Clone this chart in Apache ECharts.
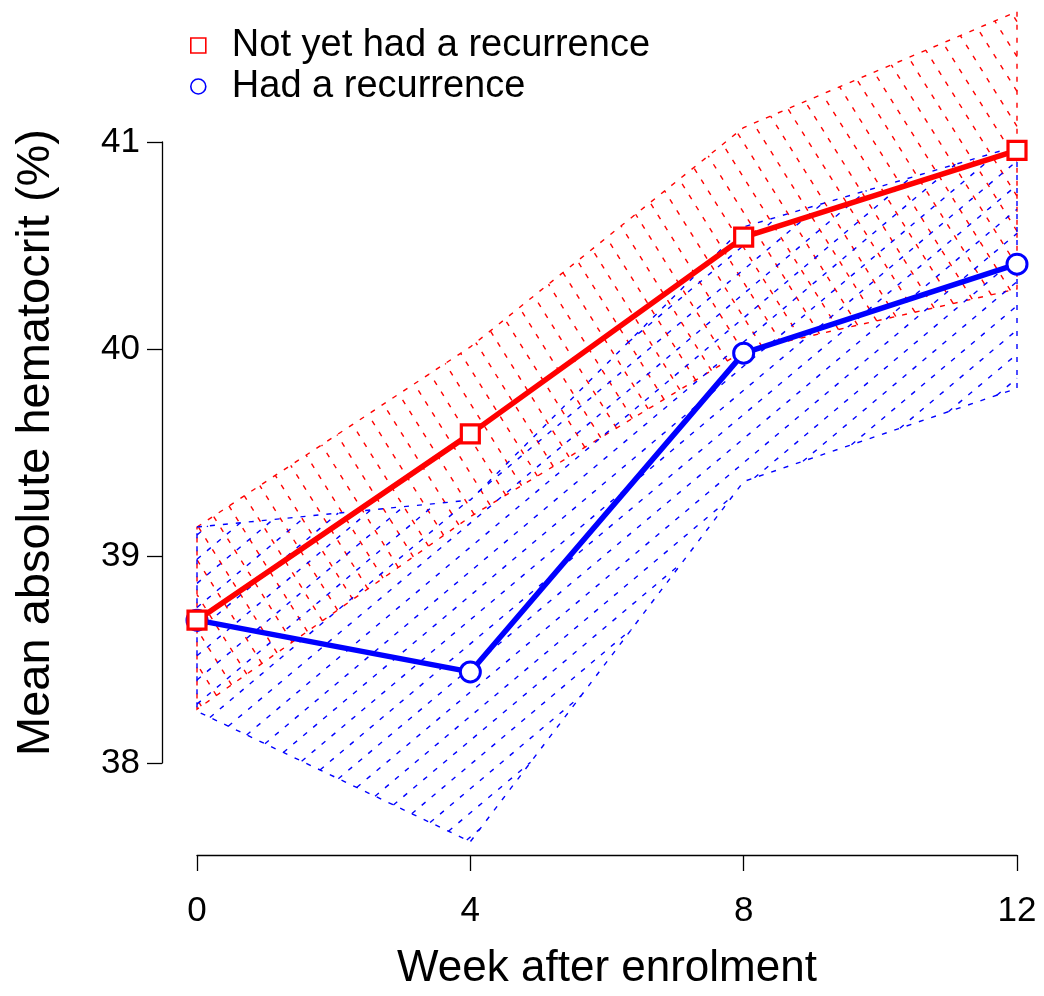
<!DOCTYPE html>
<html>
<head>
<meta charset="utf-8">
<script src="https://cdn.jsdelivr.net/npm/echarts@6/dist/echarts.min.js"></script>
<style>
html,body{margin:0;padding:0;background:#fff;}
#chart{width:1044px;height:996px;}
</style>
</head>
<body>
<div id="chart"></div>
<script>
// ---- data ----
var weeks = [0, 4, 8, 12];
var seriesNames = ['Not yet had a recurrence', 'Had a recurrence'];
var notYetMean  = [38.69, 39.59, 40.54, 40.96];
var notYetUpper = [39.14, 40.01, 41.07, 41.63];
var notYetLower = [38.26, 39.19, 39.99, 40.29];
var hadMean  = [38.69, 38.44, 39.98, 40.41];
var hadUpper = [39.14, 39.27, 40.59, 40.98];
var hadLower = [38.25, 37.62, 39.36, 39.81];
var xTicks = [0, 4, 8, 12];
var yTicks = [38, 39, 40, 41];

var FONT = '"Liberation Sans", Arial, Helvetica, sans-serif';
var RED = '#FF0000', BLUE = '#0000FF';

function pairs(xs, ys) { return xs.map(function (x, i) { return [x, ys[i]]; }); }

// hatch a polygon (pixel coords) with parallel dashed lines at angle (deg, counterclockwise, y up)
function hatch(pts, angleDeg, spacing, color) {
  var a = angleDeg * Math.PI / 180;
  var d = [Math.cos(a), -Math.sin(a)];
  var n = [-d[1], d[0]];
  var proj = pts.map(function (p) { return p[0] * n[0] + p[1] * n[1]; });
  var cmin = Math.min.apply(null, proj), cmax = Math.max.apply(null, proj);
  var children = [];
  var dash = [5, 8];
  for (var k = Math.ceil(cmin / spacing); k * spacing <= cmax; k++) {
    var c = k * spacing;
    var hits = [];
    for (var i = 0; i < pts.length; i++) {
      var p = pts[i], q = pts[(i + 1) % pts.length];
      var da = proj[i] - c, db = proj[(i + 1) % pts.length] - c;
      if ((da > 0) !== (db > 0)) {
        var t = da / (da - db);
        var x = p[0] + t * (q[0] - p[0]), y = p[1] + t * (q[1] - p[1]);
        hits.push({ x: x, y: y, s: x * d[0] + y * d[1] });
      }
    }
    hits.sort(function (u, v) { return u.s - v.s; });
    for (var j = 0; j + 1 < hits.length; j += 2) {
      children.push({
        type: 'line',
        shape: { x1: hits[j].x, y1: hits[j].y, x2: hits[j + 1].x, y2: hits[j + 1].y },
        style: { stroke: color, lineWidth: 1.4, lineDash: dash },
        silent: true
      });
    }
  }
  children.push({
    type: 'polygon',
    shape: { points: pts },
    style: { fill: 'transparent', stroke: color, lineWidth: 1.4, lineDash: dash },
    silent: true
  });
  return children;
}

function bandSeries(upper, lower, color, angle) {
  return {
    type: 'custom',
    silent: true,
    clip: false,
    data: [[0]],
    renderItem: function (params, api) {
      var pts = [];
      for (var i = 0; i < weeks.length; i++) pts.push(api.coord([weeks[i], upper[i]]));
      for (var i2 = weeks.length - 1; i2 >= 0; i2--) pts.push(api.coord([weeks[i2], lower[i2]]));
      return { type: 'group', children: hatch(pts, angle, 18.5, color) };
    },
    z: 1
  };
}

var chart = echarts.init(document.getElementById('chart'), null, { renderer: 'canvas' });
chart.setOption({
  animation: false,
  backgroundColor: '#fff',
  textStyle: { fontFamily: FONT },
  grid: { left: 197, right: 27, top: 142, bottom: 231, containLabel: false },
  legend: {
    orient: 'vertical',
    left: 190,
    top: 25,
    padding: 0,
    itemGap: 0,
    itemWidth: 15,
    itemHeight: 15,
    selectedMode: false,
    textStyle: { fontSize: 38, color: '#000', fontFamily: FONT, lineHeight: 41, padding: [0, 0, 0, 21] },
    data: [
      { name: seriesNames[0], icon: 'rect', itemStyle: { color: '#fff', borderColor: RED, borderWidth: 1.6 } },
      { name: seriesNames[1], icon: 'circle', itemStyle: { color: '#fff', borderColor: BLUE, borderWidth: 1.6 } }
    ]
  },
  xAxis: {
    type: 'value', min: xTicks[0], max: xTicks[xTicks.length - 1], interval: 4,
    offset: 92,
    name: 'Week after enrolment', nameLocation: 'middle', nameGap: 92,
    nameTextStyle: { fontSize: 44, color: '#000', fontFamily: FONT },
    axisLine: { show: true, onZero: false, lineStyle: { color: '#000', width: 1.3 } },
    axisTick: { show: true, length: 16, lineStyle: { color: '#000', width: 1.3 } },
    axisLabel: { fontSize: 35, color: '#000', margin: 39, fontFamily: FONT },
    splitLine: { show: false }
  },
  yAxis: {
    type: 'value', min: yTicks[0], max: yTicks[yTicks.length - 1], interval: 1,
    offset: 35,
    name: 'Mean absolute hematocrit (%)', nameLocation: 'middle', nameGap: 102,
    nameTextStyle: { fontSize: 47, color: '#000', fontFamily: FONT, padding: [0, 0, 0, 20] },
    axisLine: { show: true, onZero: false, lineStyle: { color: '#000', width: 1.3 } },
    axisTick: { show: true, length: 15, lineStyle: { color: '#000', width: 1.3 } },
    axisLabel: { fontSize: 35, color: '#000', margin: 22, fontFamily: FONT },
    splitLine: { show: false }
  },
  series: [
    bandSeries(notYetUpper, notYetLower, RED, 122),
    bandSeries(hadUpper, hadLower, BLUE, 40),
    {
      name: seriesNames[1], type: 'line', data: pairs(weeks, hadMean), clip: false,
      symbol: 'circle', symbolSize: 20, showAllSymbol: true,
      lineStyle: { color: BLUE, width: 5.5 },
      itemStyle: { color: '#fff', borderColor: BLUE, borderWidth: 3 },
      emphasis: { disabled: true }, z: 3
    },
    {
      name: seriesNames[0], type: 'line', data: pairs(weeks, notYetMean), clip: false,
      symbol: 'rect', symbolSize: 18, showAllSymbol: true,
      lineStyle: { color: RED, width: 5.5 },
      itemStyle: { color: '#fff', borderColor: RED, borderWidth: 3.2 },
      emphasis: { disabled: true }, z: 4
    }
  ]
});
</script>
</body>
</html>
